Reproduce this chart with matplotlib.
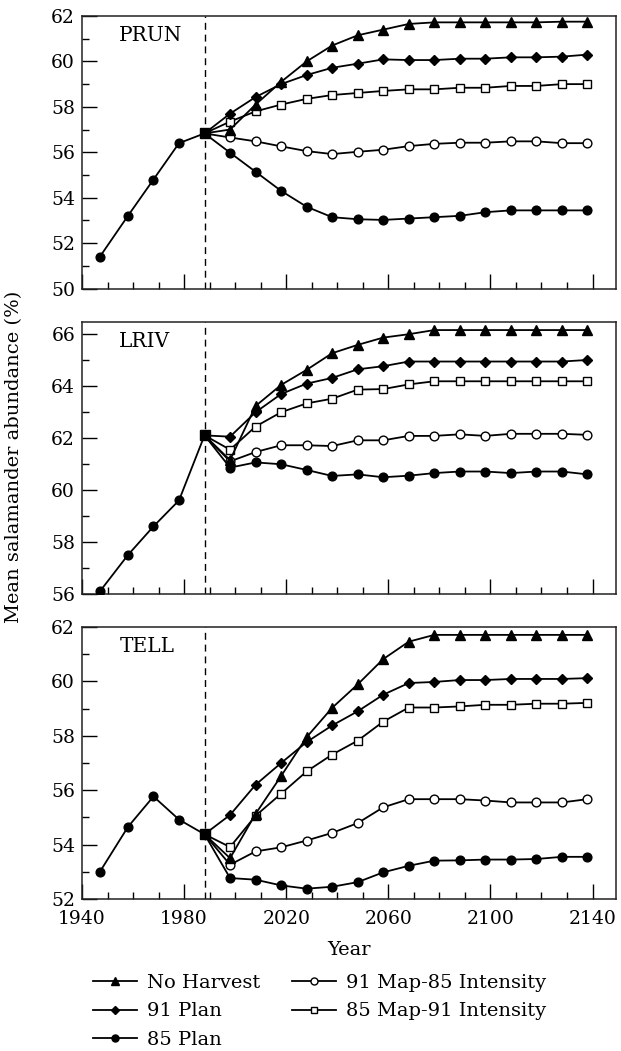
import matplotlib
matplotlib.use("Agg")
import matplotlib.pyplot as plt
from matplotlib.ticker import MultipleLocator

plt.rcParams['font.family'] = ['DejaVu Serif']
plt.rcParams['font.size'] = 14

# years: observed history up to 1988, then projections every 10 years
hist_years = [1947, 1958, 1968, 1978, 1988]
proj_years = [1998, 2008, 2018, 2028, 2038, 2048, 2058, 2068, 2078, 2088, 2098, 2108, 2118, 2128, 2138]
start_year = 1988

scenarios = ['No Harvest', '91 Plan', '85 Plan', '91 Map-85 Intensity', '85 Map-91 Intensity']

# PRUN
prun_hist = [51.4, 53.2, 54.8, 56.4, 56.83]
prun_no_harvest = [57.0, 58.1, 59.1, 60.0, 60.7, 61.15, 61.4, 61.65, 61.72, 61.72, 61.72, 61.72, 61.72, 61.75, 61.75]
prun_plan91 = [57.7, 58.43, 59.0, 59.4, 59.72, 59.9, 60.09, 60.06, 60.06, 60.12, 60.12, 60.18, 60.18, 60.21, 60.3]
prun_plan85 = [55.98, 55.14, 54.3, 53.6, 53.14, 53.05, 53.02, 53.08, 53.14, 53.2, 53.36, 53.44, 53.44, 53.44, 53.44]
prun_map91_int85 = [56.65, 56.48, 56.26, 56.05, 55.92, 56.02, 56.11, 56.27, 56.37, 56.42, 56.42, 56.48, 56.48, 56.4, 56.4]
prun_map85_int91 = [57.35, 57.8, 58.1, 58.35, 58.52, 58.61, 58.7, 58.77, 58.77, 58.84, 58.84, 58.92, 58.92, 59.0, 59.0]

# LRIV
lriv_hist = [56.1, 57.5, 58.6, 59.6, 62.1]
lriv_no_harvest = [61.15, 63.23, 64.04, 64.62, 65.26, 65.58, 65.86, 65.99, 66.15, 66.15, 66.15, 66.15, 66.15, 66.15, 66.15]
lriv_plan91 = [62.05, 62.99, 63.69, 64.09, 64.31, 64.64, 64.76, 64.94, 64.94, 64.94, 64.94, 64.94, 64.94, 64.94, 65.0]
lriv_plan85 = [60.86, 61.06, 60.99, 60.77, 60.54, 60.6, 60.49, 60.55, 60.65, 60.71, 60.71, 60.65, 60.71, 60.71, 60.6]
lriv_map91_int85 = [61.1, 61.46, 61.72, 61.72, 61.69, 61.91, 61.91, 62.08, 62.08, 62.14, 62.08, 62.16, 62.16, 62.16, 62.12]
lriv_map85_int91 = [61.55, 62.44, 62.99, 63.33, 63.51, 63.86, 63.88, 64.06, 64.18, 64.18, 64.18, 64.18, 64.18, 64.18, 64.18]

# TELL
tell_hist = [53.0, 54.65, 55.77, 54.92, 54.38]
tell_no_harvest = [53.5, 55.13, 56.52, 57.95, 59.03, 59.89, 60.82, 61.46, 61.71, 61.71, 61.71, 61.71, 61.71, 61.71, 61.71]
tell_plan91 = [55.09, 56.2, 57.0, 57.77, 58.38, 58.9, 59.51, 59.94, 59.98, 60.05, 60.05, 60.09, 60.09, 60.09, 60.12]
tell_plan85 = [52.77, 52.71, 52.5, 52.38, 52.45, 52.62, 52.98, 53.22, 53.41, 53.42, 53.45, 53.45, 53.47, 53.55, 53.55]
tell_map91_int85 = [53.26, 53.75, 53.9, 54.15, 54.43, 54.79, 55.37, 55.67, 55.67, 55.67, 55.62, 55.55, 55.55, 55.55, 55.67]
tell_map85_int91 = [53.91, 55.06, 55.87, 56.69, 57.31, 57.82, 58.52, 59.04, 59.04, 59.08, 59.14, 59.14, 59.18, 59.18, 59.21]

panels = [
    ('PRUN', prun_hist, [prun_no_harvest, prun_plan91, prun_plan85, prun_map91_int85, prun_map85_int91], (50, 62), (50, 62)),
    ('LRIV', lriv_hist, [lriv_no_harvest, lriv_plan91, lriv_plan85, lriv_map91_int85, lriv_map85_int91], (56, 66.46), (56, 66)),
    ('TELL', tell_hist, [tell_no_harvest, tell_plan91, tell_plan85, tell_map91_int85, tell_map85_int91], (52, 62), (52, 62)),
]

# marker, face colour, size for each scenario
styles = {
    'No Harvest': ('^', 'k', 6.5),
    '91 Plan': ('D', 'k', 5.5),
    '85 Plan': ('o', 'k', 6.3),
    '91 Map-85 Intensity': ('o', 'white', 6.3),
    '85 Map-91 Intensity': ('s', 'white', 6),
}
draw_order = ['85 Plan', '91 Map-85 Intensity', '85 Map-91 Intensity', '91 Plan', 'No Harvest']

W, H = 621, 1051
fig = plt.figure(figsize=(W / 100, H / 100), dpi=100)

# axes boxes in pixels: (top, bottom)
boxes = [(16, 288.5), (322, 594), (627, 899)]
left_px, right_px = 82, 615.5

handles = {}
axes = []
for (name, hist, series, ylim, yticks), (top, bot) in zip(panels, boxes):
    ax = fig.add_axes([left_px / W, 1 - bot / H, (right_px - left_px) / W, (bot - top) / H])
    axes.append(ax)

    ax.axvline(start_year, color='k', lw=1.0, ls=(0, (5, 3.5)), zorder=1)

    vals = dict(zip(scenarios, series))
    for sc in draw_order:
        m, fc, ms = styles[sc]
        xs = [start_year] + proj_years
        ys = [hist[-1]] + vals[sc]
        ln, = ax.plot(xs, ys, color='k', lw=1.3, marker=m, ms=ms, mfc=fc, mec='k', mew=1.0,
                      markevery=list(range(1, len(xs))), zorder=3, label=sc)
        handles[sc] = ln

    # observed history (85 plan markers) and the shared 1988 starting point
    ax.plot(hist_years, hist, color='k', lw=1.3, marker='o', ms=6.3, mfc='k', mec='k',
            markevery=list(range(len(hist) - 1)), zorder=3)
    ax.plot([start_year], [hist[-1]], marker='s', ms=6.5, color='k', zorder=4)

    ax.set_xlim(1940, 2149)
    ax.set_ylim(*ylim)
    ax.set_xticks(range(1940, 2141, 40))
    ax.set_xticks(range(1950, 2141, 10), minor=True)
    ax.set_yticks(range(yticks[0], yticks[1] + 1, 2))
    ax.yaxis.set_minor_locator(MultipleLocator(1))
    ax.tick_params(which='major', direction='in', length=10.5, width=1.0, labelsize=13.5)
    ax.tick_params(which='minor', direction='in', length=5.2, width=1.0)
    ax.tick_params(axis='x', which='major', pad=8)
    ax.tick_params(axis='y', which='major', pad=5)
    for sp in ax.spines.values():
        sp.set_linewidth(1.1)
        sp.set_color('#222222')

    ax.text(0.07, 0.93, name, transform=ax.transAxes, ha='left', va='center', fontsize=14.5)

for ax in axes[:-1]:
    ax.tick_params(axis='x', labelbottom=False)

axes[-1].set_xlabel('Year', fontsize=14, labelpad=9)
fig.text(0.023, 1 - 457 / H, 'Mean salamander abundance (%)', rotation=90,
         ha='center', va='center', fontsize=14)

fig.legend([handles[s] for s in scenarios], scenarios, ncol=2, loc='upper left',
           bbox_to_anchor=(83 / W, 1 - 964 / H), frameon=False, borderpad=0,
           handlelength=2.3, handletextpad=0.5, columnspacing=1.6, labelspacing=0.55,
           markerscale=0.8, fontsize=14)

fig.savefig('out.png', dpi=100)
